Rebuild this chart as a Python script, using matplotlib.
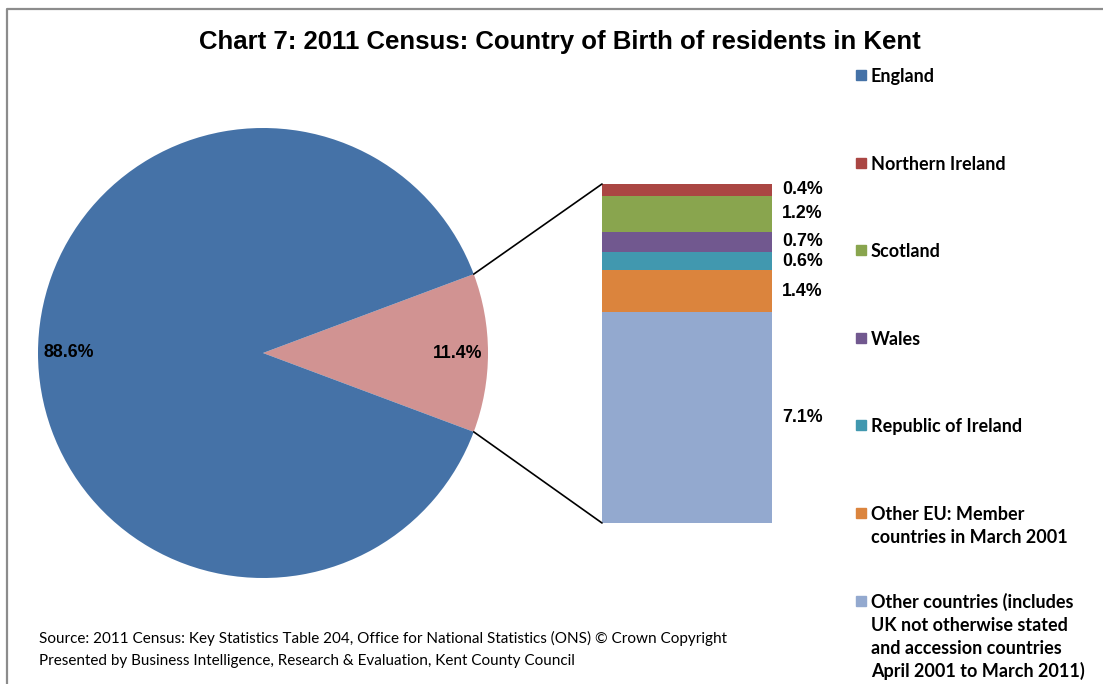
import matplotlib
matplotlib.use("Agg")
import matplotlib.pyplot as plt
from matplotlib.patches import ConnectionPatch, Rectangle
from matplotlib.lines import Line2D
import numpy as np

W, H = 1103, 684

# pie: England vs the rest
pie_labels = ["Other", "England"]
pie_values = [11.4, 88.6]
pie_colors = ["#D19392", "#4572A7"]

# bar: breakdown of the 11.4%, bottom to top
bar_labels = ["Other countries (includes\nUK not otherwise stated\nand accession countries\nApril 2001 to March 2011)",
              "Other EU: Member\ncountries in March 2001",
              "Republic of Ireland", "Wales", "Scotland", "Northern Ireland"]
bar_values = [7.1, 1.4, 0.6, 0.7, 1.2, 0.4]
bar_colors = ["#93A9CF", "#DB843D", "#4198AF", "#71588F", "#89A54E", "#AA4643"]

legend_labels = ["England"] + bar_labels[::-1]
legend_colors = ["#4572A7"] + bar_colors[::-1]

def px(x, y):
    # pixel position -> figure fraction
    return x / W, 1 - y / H

fig = plt.figure(figsize=(W / 100, H / 100), dpi=100)

# pie axes, centre (263, 353), radius 225 px
cx, cy, r = 263, 353, 225
ax_pie = fig.add_axes([(cx - r) / W, (H - cy - r) / H, 2 * r / W, 2 * r / H])
half = pie_values[0] * 3.6 / 2
wedges, _, autotexts = ax_pie.pie(pie_values, colors=pie_colors, startangle=-half,
                                  autopct="%1.1f%%", pctdistance=0.865,
                                  wedgeprops=dict(linewidth=0),
                                  textprops=dict(family="Liberation Sans", weight="bold",
                                                 fontsize=12.8, color="black"))
ax_pie.set_xlim(-1, 1)
ax_pie.set_ylim(-1, 1)
ax_pie.set_aspect("equal")
ax_pie.axis("off")

# bar axes, x 602..772, y 184..523
bx0, bx1, by0, by1 = 602, 772, 184, 523
ax_bar = fig.add_axes([bx0 / W, (H - by1) / H, (bx1 - bx0) / W, (by1 - by0) / H])
total = sum(bar_values)
bottom = 0
for v, c in zip(bar_values, bar_colors):
    ax_bar.bar(0.5, v, width=1, bottom=bottom, color=c, linewidth=0)
    ax_bar.text(1.06, bottom + v / 2, f"{v}%", ha="left", va="center",
                family="Liberation Sans", weight="bold", fontsize=12.8)
    bottom += v
ax_bar.set_xlim(0, 1)
ax_bar.set_ylim(0, total)
ax_bar.axis("off")

# connector lines
theta = np.deg2rad(half)
for sgn, yb in [(1, total), (-1, 0)]:
    con = ConnectionPatch(xyA=(0, yb), coordsA=ax_bar.transData,
                          xyB=(np.cos(theta), sgn * np.sin(theta)), coordsB=ax_pie.transData,
                          color="black", linewidth=1.2)
    fig.add_artist(con)

# title
fig.text(*px(560, 42), "Chart 7: 2011 Census: Country of Birth of residents in Kent",
         ha="center", va="center", family="Liberation Sans", weight="bold", fontsize=18.5)

# legend, evenly spaced by first line
for i, (lab, c) in enumerate(zip(legend_labels, legend_colors)):
    y = 75 + i * 87.6
    fig.add_artist(Rectangle(px(856, y + 5), 10 / W, 10 / H, color=c,
                             transform=fig.transFigure))
    for k, line in enumerate(lab.split("\n")):
        fig.text(*px(871, y + k * 23), line, ha="left", va="center_baseline",
                 family="Lato", weight="bold", fontsize=13)

# source notes
fig.text(*px(39, 638), "Source: 2011 Census: Key Statistics Table 204, Office for National Statistics (ONS) \u00a9 Crown Copyright",
         ha="left", va="center", family="Lato", fontsize=11)
fig.text(*px(39, 661), "Presented by Business Intelligence, Research & Evaluation, Kent County Council",
         ha="left", va="center", family="Lato", fontsize=11)

# chart area border (top and left visible)
fig.add_artist(Line2D([7 / W, 7 / W, 1], [0, 1 - 9 / H, 1 - 9 / H],
                      transform=fig.transFigure, color="#8C8C8C", linewidth=1.6))

fig.savefig("out.png", dpi=100)
